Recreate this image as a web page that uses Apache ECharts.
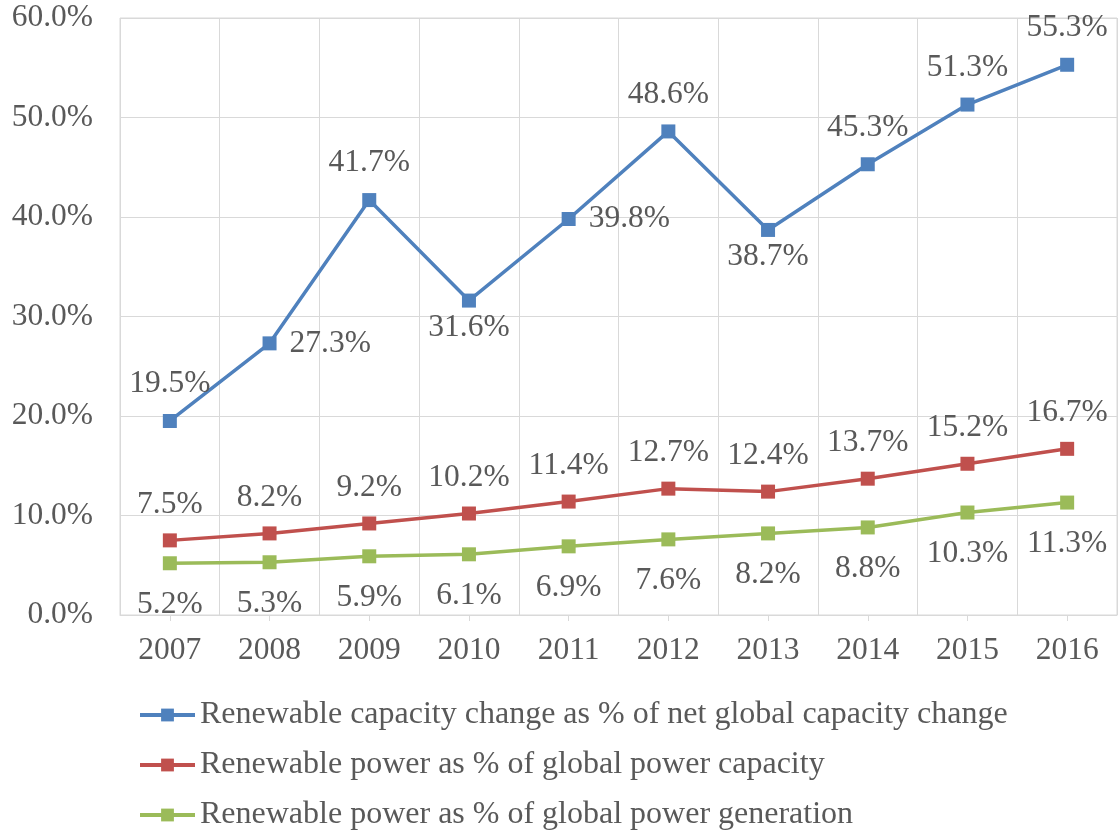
<!DOCTYPE html>
<html>
<head>
<meta charset="utf-8">
<script src="https://cdn.jsdelivr.net/npm/echarts@6/dist/echarts.min.js"></script>
<style>
html,body{margin:0;padding:0;background:#fff;}
#chart{width:1120px;height:833px;}
</style>
</head>
<body>
<div id="chart"></div>
<script>
var categories = ['2007','2008','2009','2010','2011','2012','2013','2014','2015','2016'];
var seriesNames = [
  'Renewable capacity change as % of net global capacity change',
  'Renewable power as % of global power capacity',
  'Renewable power as % of global power generation'
];
var capacityChange = [19.5, 27.3, 41.7, 31.6, 39.8, 48.6, 38.7, 45.3, 51.3, 55.3];
var powerCapacity = [7.5, 8.2, 9.2, 10.2, 11.4, 12.7, 12.4, 13.7, 15.2, 16.7];
var powerGeneration = [5.2, 5.3, 5.9, 6.1, 6.9, 7.6, 8.2, 8.8, 10.3, 11.3];
var yTicks = [0, 10, 20, 30, 40, 50, 60];

// label placement for the first series (style, not data)
var capacityLabelPos = ['top','right','top','bottom','right','top','bottom','top','top','top'];

var FONT = '"Liberation Serif", "Times New Roman", serif';
var TXT = '#595959';
var GRID = '#d9d9d9';
var FS = 31.5;

function fmt(v){ return v.toFixed(1) + '%'; }

var blueData = capacityChange.map(function(v, i){
  var pos = capacityLabelPos[i];
  var d = pos === 'top' ? 14 : (pos === 'bottom' ? 4 : 13);
  return { value: v, label: { position: pos, distance: d } };
});

var chart = echarts.init(document.getElementById('chart'), null, {renderer:'canvas'});
chart.setOption({
  animation: false,
  backgroundColor: '#ffffff',
  textStyle: { fontFamily: FONT, color: TXT },
  grid: { left: 120, right: 3, top: 18, bottom: 218, show: true, borderColor: GRID, borderWidth: 1 },
  legend: {
    orient: 'vertical',
    left: 138,
    top: 699,
    padding: 0,
    itemWidth: 55,
    itemHeight: 16,
    itemGap: 18,
    itemTextGap: 5,
    lineStyle: { width: 4 },
    textStyle: { fontFamily: FONT, fontSize: 32, color: TXT },
    data: seriesNames
  },
  xAxis: {
    type: 'category',
    data: categories,
    boundaryGap: true,
    axisLine: { lineStyle: { color: GRID, width: 1 } },
    axisTick: { show: true, alignWithLabel: true, length: 6, lineStyle: { color: GRID } },
    axisLabel: { fontFamily: FONT, fontSize: FS, color: TXT, margin: 20 },
    splitLine: { show: true, lineStyle: { color: GRID, width: 1 } }
  },
  yAxis: {
    type: 'value',
    min: yTicks[0],
    max: yTicks[yTicks.length - 1],
    interval: 10,
    axisLine: { show: false },
    axisTick: { show: false },
    axisLabel: { fontFamily: FONT, fontSize: FS, color: TXT, margin: 27,
      formatter: function(v){ return v.toFixed(1) + '%'; } },
    splitLine: { show: true, lineStyle: { color: GRID, width: 1 } }
  },
  series: [
    {
      name: seriesNames[0], type: 'line', data: blueData,
      symbol: 'rect', symbolSize: 14,
      lineStyle: { color: '#4f81bd', width: 3.5 },
      itemStyle: { color: '#4f81bd' },
      label: { show: true, fontFamily: FONT, fontSize: FS, color: TXT,
        formatter: function(p){ return fmt(p.value); } },
      z: 4
    },
    {
      name: seriesNames[1], type: 'line', data: powerCapacity,
      symbol: 'rect', symbolSize: 14,
      lineStyle: { color: '#c0504d', width: 3.5 },
      itemStyle: { color: '#c0504d' },
      label: { show: true, position: 'top', distance: 13, fontFamily: FONT, fontSize: FS, color: TXT,
        formatter: function(p){ return fmt(p.value); } },
      z: 3
    },
    {
      name: seriesNames[2], type: 'line', data: powerGeneration,
      symbol: 'rect', symbolSize: 14,
      lineStyle: { color: '#9bbb59', width: 3.5 },
      itemStyle: { color: '#9bbb59' },
      label: { show: true, position: 'bottom', distance: 18, fontFamily: FONT, fontSize: FS, color: TXT,
        formatter: function(p){ return fmt(p.value); } },
      z: 2
    }
  ]
});
</script>
</body>
</html>
